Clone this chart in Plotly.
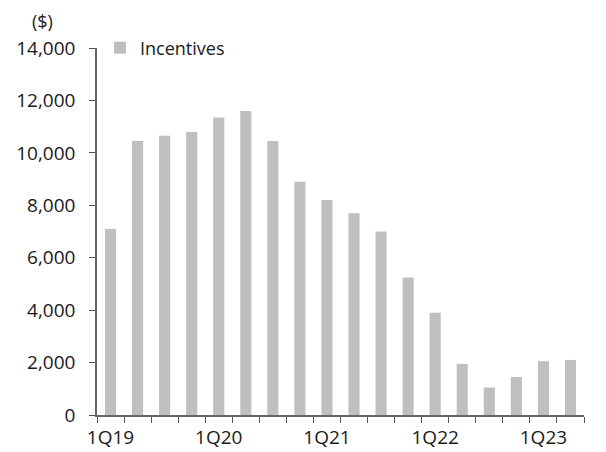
import plotly.graph_objects as go

quarters = ["1Q19", "2Q19", "3Q19", "4Q19", "1Q20", "2Q20", "3Q20", "4Q20",
            "1Q21", "2Q21", "3Q21", "4Q21", "1Q22", "2Q22", "3Q22", "4Q22",
            "1Q23", "2Q23"]
incentives = [7100, 10450, 10650, 10800, 11350, 11600, 10450, 8900,
              8200, 7700, 7000, 5250, 3900, 1950, 1050, 1450, 2050, 2100]
tick_labels = [q if q.startswith("1Q") else "" for q in quarters]
y_ticks = [0, 2000, 4000, 6000, 8000, 10000, 12000, 14000]

font = "Open Sans, DejaVu Sans, sans-serif"
txt = "#1a1a1a"

W, H = 598, 444
ML, MR, MT, MB = 89, 22, 40, 37
PW, PH = W - ML - MR, H - MT - MB

fig = go.Figure()
fig.add_trace(go.Bar(x=quarters, y=incentives, name="Incentives",
                     marker=dict(color="#BFBFBF", line=dict(width=0))))

fig.update_layout(
    width=W, height=H,
    margin=dict(l=ML, r=MR, t=MT, b=MB, autoexpand=False),
    paper_bgcolor="white", plot_bgcolor="white",
    bargap=0.59,
    showlegend=True,
    legend=dict(x=3 / PW, y=1.0, xanchor="left", yanchor="middle",
                font=dict(family=font, size=18, color=txt),
                itemwidth=30, bgcolor="rgba(0,0,0,0)"),
    font=dict(family=font, size=19, color=txt),
    xaxis=dict(
        type="category", tickmode="array", tickvals=quarters, ticktext=tick_labels,
        tickson="boundaries", ticks="outside", ticklen=6, tickcolor="#555",
        tickangle=0, ticklabelstandoff=4,
        showline=True, linecolor="#666", linewidth=1.5, showgrid=False,
        tickfont=dict(family=font, size=19, color=txt),
        automargin=False,
    ),
    yaxis=dict(
        range=[0, 14000], tickvals=y_ticks, tickformat=",d",
        ticks="outside", ticklen=6, tickcolor="#555",
        ticklabelstandoff=10,
        showline=True, linecolor="#666", linewidth=1.5, showgrid=False,
        zeroline=False,
        tickfont=dict(family=font, size=19, color=txt),
        automargin=False,
    ),
    annotations=[dict(text="($)", x=(34 - ML) / PW, y=1 + (MT - 13) / PH,
                      xref="paper", yref="paper", xanchor="center", yanchor="middle",
                      showarrow=False, font=dict(family=font, size=18, color=txt))],
)

fig.write_html("out.html")
